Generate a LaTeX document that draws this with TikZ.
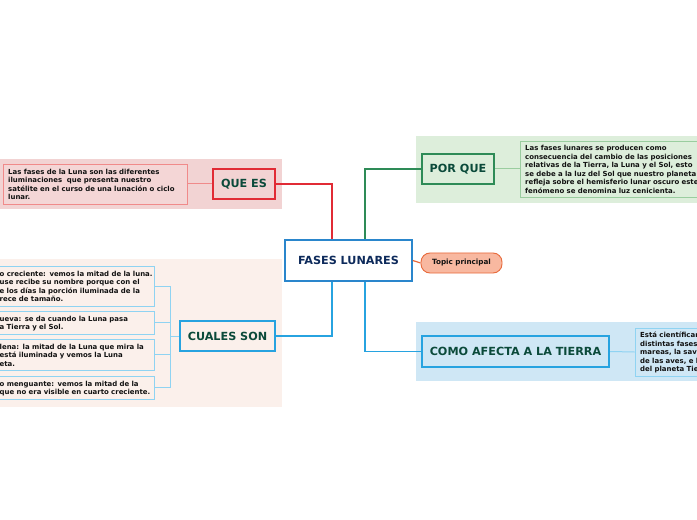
\documentclass[tikz,border=0pt]{standalone}
\usepackage{fontspec}
\setmainfont{DejaVu Sans}
\definecolor{pinkband}{HTML}{F2D3D3}
\definecolor{pinkdet}{HTML}{F4D6D6}
\definecolor{redb}{HTML}{E12B35}
\definecolor{redl}{HTML}{F08A8A}
\definecolor{greenband}{HTML}{DDEEDB}
\definecolor{greenb}{HTML}{2E8B57}
\definecolor{greenl}{HTML}{9ACD9F}
\definecolor{creamband}{HTML}{FBF0EB}
\definecolor{blueband}{HTML}{CFE7F5}
\definecolor{blueb}{HTML}{27A3E0}
\definecolor{bluel}{HTML}{8FD3F2}
\definecolor{mainb}{HTML}{2A86CC}
\definecolor{topicf}{HTML}{F8B8A0}
\definecolor{topicb}{HTML}{E86A3C}
\definecolor{tgreen}{HTML}{0B4A3A}
\definecolor{tnavy}{HTML}{0D2A5B}
\definecolor{tdark}{HTML}{111111}
\tikzset{
  mainnode/.style={draw=mainb, line width=1.6bp, fill=white, minimum width=127bp, minimum height=41bp, inner sep=0pt, text=tnavy, font=\bfseries\fontsize{11.2bp}{13bp}\selectfont},
  subnode/.style={line width=2bp, minimum height=30bp, inner sep=0pt, text=tgreen, font=\bfseries\fontsize{11.2bp}{13bp}\selectfont},
  detbox/.style={line width=0.9bp, inner sep=0pt},
  dettext/.style={anchor=north west, inner sep=0pt, align=left, text=tdark, font=\bfseries\fontsize{6.95bp}{8.45bp}\selectfont},
  conn/.style={line width=1.2bp},
  dconn/.style={line width=1bp}
}
\begin{document}
\begin{tikzpicture}[x=1bp,y=-1bp]
\useasboundingbox (0,0) rectangle (697,520);
\clip (0,0) rectangle (697,520);
\fill[white] (0,0) rectangle (697,520);
% bands
\fill[pinkband] (0,159) rectangle (282,209);
\fill[greenband] (416,136) rectangle (697,203);
\fill[creamband] (0,259) rectangle (282,407);
\fill[blueband] (416,322) rectangle (697,381);

% main node
\node[mainnode] (main) at (348.5,260.5) {FASES LUNARES};
\node[draw=topicb, line width=0.9bp, fill=topicf, rounded corners=9bp, minimum width=81bp, minimum height=20bp, inner sep=0pt, text=tdark, font=\bfseries\fontsize{7.2bp}{8bp}\selectfont] (topic) at (461.5,263) {Topic principal};

% sub nodes
\node[subnode, draw=redb, fill=pinkband, minimum width=62bp] (quees) at (244,184) {QUE ES};
\node[subnode, draw=greenb, fill=greenband, minimum width=72bp] (porque) at (458,169) {POR QUE};
\node[subnode, draw=blueb, fill=creamband, minimum width=95bp] (cuales) at (227.5,336) {CUALES SON};
\node[subnode, draw=blueb, fill=blueband, minimum width=187bp, minimum height=31bp] (como) at (515.5,351.5) {COMO AFECTA A LA TIERRA};

% detail boxes
\node[detbox, draw=redl, fill=pinkdet, minimum width=184bp, minimum height=40bp] (d1) at (95,184) {};
\node[dettext, text width=178bp] (t1) at (8,169) {Las fases de la Luna son las diferentes\\iluminaciones\ \ que presenta nuestro\\satélite en el curso de una lunación o ciclo\\lunar.};

\node[detbox, draw=greenl, fill=greenband, minimum width=200bp, minimum height=56bp] (d2) at (620,169) {};
\node[dettext, text width=190bp] (t2) at (525,145.5) {Las fases lunares se producen como\\consecuencia del cambio de las posiciones\\relativas de la Tierra, la Luna y el Sol, esto\\se debe a la luz del Sol que nuestro planeta\\refleja sobre el hemisferio lunar oscuro este\\fenómeno se denomina luz cenicienta.};

\node[detbox, draw=bluel, fill=blueband, minimum width=100bp, minimum height=48bp] (d7) at (685,352) {};
\node[dettext, text width=80bp] (t7) at (640,332) {Está científicam\\distintas fases\\mareas, la savi\\de las aves, e l\\del planeta Tie};

\node[detbox, draw=bluel, fill=creamband, minimum width=194bp, minimum height=40bp] (d3) at (57,286) {};
\node[dettext, text width=170bp] (t3) at (-0.5,271) {o creciente: vemos la mitad de la luna.\\use recibe su nombre porque con el\\e los días la porción iluminada de la\\rece de tamaño.};

\node[detbox, draw=bluel, fill=creamband, minimum width=194bp, minimum height=23bp] (d4) at (57,322.5) {};
\node[dettext, text width=170bp] (t4) at (-0.5,316) {ueva: se da cuando la Luna pasa\\a Tierra y el Sol.};

\node[detbox, draw=bluel, fill=creamband, minimum width=194bp, minimum height=31bp] (d5) at (57,354.5) {};
\node[dettext, text width=170bp] (t5) at (-0.5,344) {lena: la mitad de la Luna que mira la\\está iluminada y vemos la Luna\\eta.};

\node[detbox, draw=bluel, fill=creamband, minimum width=194bp, minimum height=23bp] (d6) at (57,387.5) {};
\node[dettext, text width=170bp] (t6) at (-0.5,381) {o menguante: vemos la mitad de la\\que no era visible en cuarto creciente.};

% main connectors
\draw[conn, redb] ([xshift=-16.5bp]main.north) |- (quees.east);
\draw[conn, greenb] ([xshift=16.5bp]main.north) |- (porque.west);
\draw[conn, blueb] ([xshift=-16.5bp]main.south) |- (cuales.east);
\draw[conn, blueb] ([xshift=16.5bp]main.south) |- (como.west);
\draw[conn, topicb] (main.east) -- (topic.west);

% detail connectors
\draw[dconn, redl] (quees.west) -- (d1.east);
\draw[dconn, greenl] (porque.east) -- (d2.west);
\draw[dconn, bluel] (como.east) -- (d7.west);
\coordinate (br) at (170,336);
\draw[dconn, bluel] (cuales.west) -- (br);
\draw[dconn, bluel] (d3.east) -| (br);
\draw[dconn, bluel] (d4.east) -| (br);
\draw[dconn, bluel] (d5.east) -| (br);
\draw[dconn, bluel] (d6.east) -| (br);
\end{tikzpicture}
\end{document}
